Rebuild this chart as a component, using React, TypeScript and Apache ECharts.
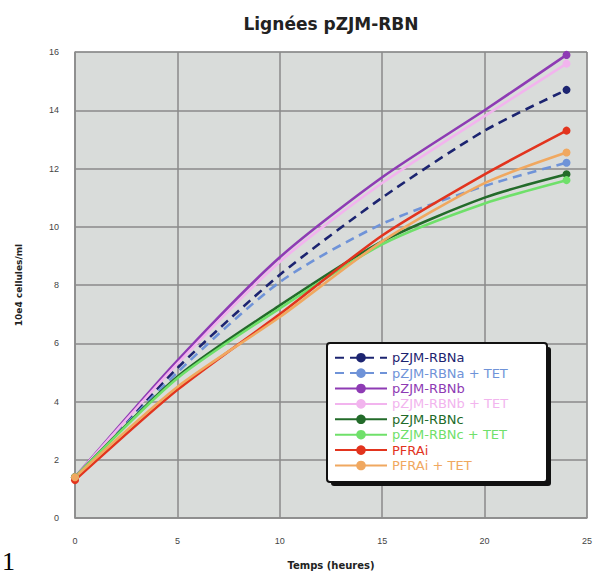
import React, { useEffect, useRef } from "react";
import * as echarts from "echarts";

const HOURS = [0, 5, 10, 15, 20, 24];
const X_TICKS = [0, 5, 10, 15, 20, 25];
const Y_TICKS = [0, 2, 4, 6, 8, 10, 12, 14, 16];

const NAMES = [
  "pZJM-RBNa",
  "pZJM-RBNa + TET",
  "pZJM-RBNb",
  "pZJM-RBNb + TET",
  "pZJM-RBNc",
  "pZJM-RBNc + TET",
  "PFRAi",
  "PFRAi + TET",
];

const RBNa = [1.4, 5.15, 8.35, 11.0, 13.3, 14.7];
const RBNa_TET = [1.4, 5.0, 8.1, 10.1, 11.4, 12.2];
const RBNb = [1.4, 5.4, 8.95, 11.7, 14.0, 15.9];
const RBNb_TET = [1.4, 5.3, 8.8, 11.5, 13.8, 15.6];
const RBNc = [1.4, 4.85, 7.3, 9.5, 11.0, 11.8];
const RBNc_TET = [1.4, 4.8, 7.2, 9.4, 10.8, 11.6];
const PFRAi = [1.3, 4.4, 7.0, 9.7, 11.8, 13.3];
const PFRAi_TET = [1.4, 4.5, 6.9, 9.5, 11.5, 12.55];

const VALUES = [RBNa, RBNa_TET, RBNb, RBNb_TET, RBNc, RBNc_TET, PFRAi, PFRAi_TET];
const COLORS = [
  "#1c2470",
  "#6f93d8",
  "#8e3bb4",
  "#f2b4ee",
  "#236b2a",
  "#6fe06a",
  "#e2341e",
  "#f0a860",
];
const DASHED = [true, true, false, false, false, false, false, false];

export default function App() {
  const ref = useRef<HTMLDivElement>(null);
  useEffect(() => {
    if (!ref.current) return;
    const chart = echarts.init(ref.current, undefined, { renderer: "svg" });
    const series = NAMES.map((name, i) => ({
      name,
      type: "line",
      smooth: 0.25,
      z: 3,
      symbol: "circle",
      symbolSize: 8,
      showAllSymbol: true,
      data: HOURS.map((h, j) => ({
        value: [h, VALUES[i][j]],
        symbol: j === 0 || j === HOURS.length - 1 ? "circle" : "none",
      })),
      itemStyle: { color: COLORS[i] },
      lineStyle: {
        color: COLORS[i],
        width: 2.6,
        type: DASHED[i] ? [9, 6] : "solid",
      },
    }));
    chart.setOption({
      animation: false,
      backgroundColor: "#ffffff",
      grid: {
        left: 75,
        right: 14,
        top: 52,
        bottom: 52,
        show: true,
        backgroundColor: "#d9dcda",
        borderColor: "#9a9a9a",
        borderWidth: 1,
      },
      xAxis: {
        type: "value",
        min: X_TICKS[0],
        max: X_TICKS[X_TICKS.length - 1],
        interval: 5,
        name: "Temps (heures)",
        nameLocation: "middle",
        nameGap: 42,
        nameTextStyle: { fontFamily: "DejaVu Sans", fontWeight: "bold", fontSize: 10, color: "#222" },
        axisLine: { show: true, lineStyle: { color: "#8c8c8c", width: 1.5 } },
        axisTick: { show: false },
        axisLabel: { fontFamily: "Liberation Sans", fontSize: 9, color: "#444", margin: 18 },
        splitLine: { show: true, lineStyle: { color: "#8a8a8a", width: 1.5 } },
      },
      yAxis: {
        type: "value",
        min: Y_TICKS[0],
        max: Y_TICKS[Y_TICKS.length - 1],
        interval: 2,
        name: "10e4 cellules/ml",
        nameLocation: "middle",
        nameGap: 52,
        nameTextStyle: { fontFamily: "DejaVu Sans", fontWeight: "bold", fontSize: 9, color: "#222" },
        axisLine: { show: true, lineStyle: { color: "#8c8c8c", width: 1.5 } },
        axisTick: { show: false },
        axisLabel: { fontFamily: "Liberation Sans", fontSize: 9, color: "#444", margin: 16 },
        splitLine: { show: true, lineStyle: { color: "#8a8a8a", width: 1.5 } },
      },
      legend: {
        show: true,
        orient: "vertical",
        left: 334,
        top: 350,
        z: 20,
        padding: 0,
        itemGap: 0,
        itemWidth: 52,
        itemHeight: 12,
        data: NAMES.map((n, i) => ({ name: n, textStyle: { color: COLORS[i] } })),
        textStyle: { fontFamily: "DejaVu Sans", fontSize: 13, lineHeight: 15.4, padding: [0, 0, 0, 0] },
      },
      graphic: [
        {
          type: "text",
          x: 331,
          y: 24,
          style: {
            text: "Lignées pZJM-RBN",
            fontFamily: "DejaVu Sans",
            fontWeight: "bold",
            fontSize: 17,
            fill: "#222",
            textAlign: "center",
            textVerticalAlign: "middle",
          },
        },
        {
          type: "rect",
          z: 10,
          shape: { x: 331, y: 347, width: 220, height: 139, r: 3 },
          style: { fill: "#111" },
        },
        {
          type: "rect",
          z: 11,
          shape: { x: 327, y: 343, width: 220, height: 139, r: 3 },
          style: { fill: "#ffffff", stroke: "#111", lineWidth: 2 },
        },
        {
          type: "text",
          x: 2,
          y: 548,
          style: {
            text: "1",
            fontFamily: "Liberation Serif",
            fontSize: 26,
            fill: "#000",
            textVerticalAlign: "top",
          },
        },
      ],
      series,
    });
    return () => chart.dispose();
  }, []);
  return <div ref={ref} style={{ width: 601, height: 575, position: "absolute", left: 0, top: 0 }} />;
}
